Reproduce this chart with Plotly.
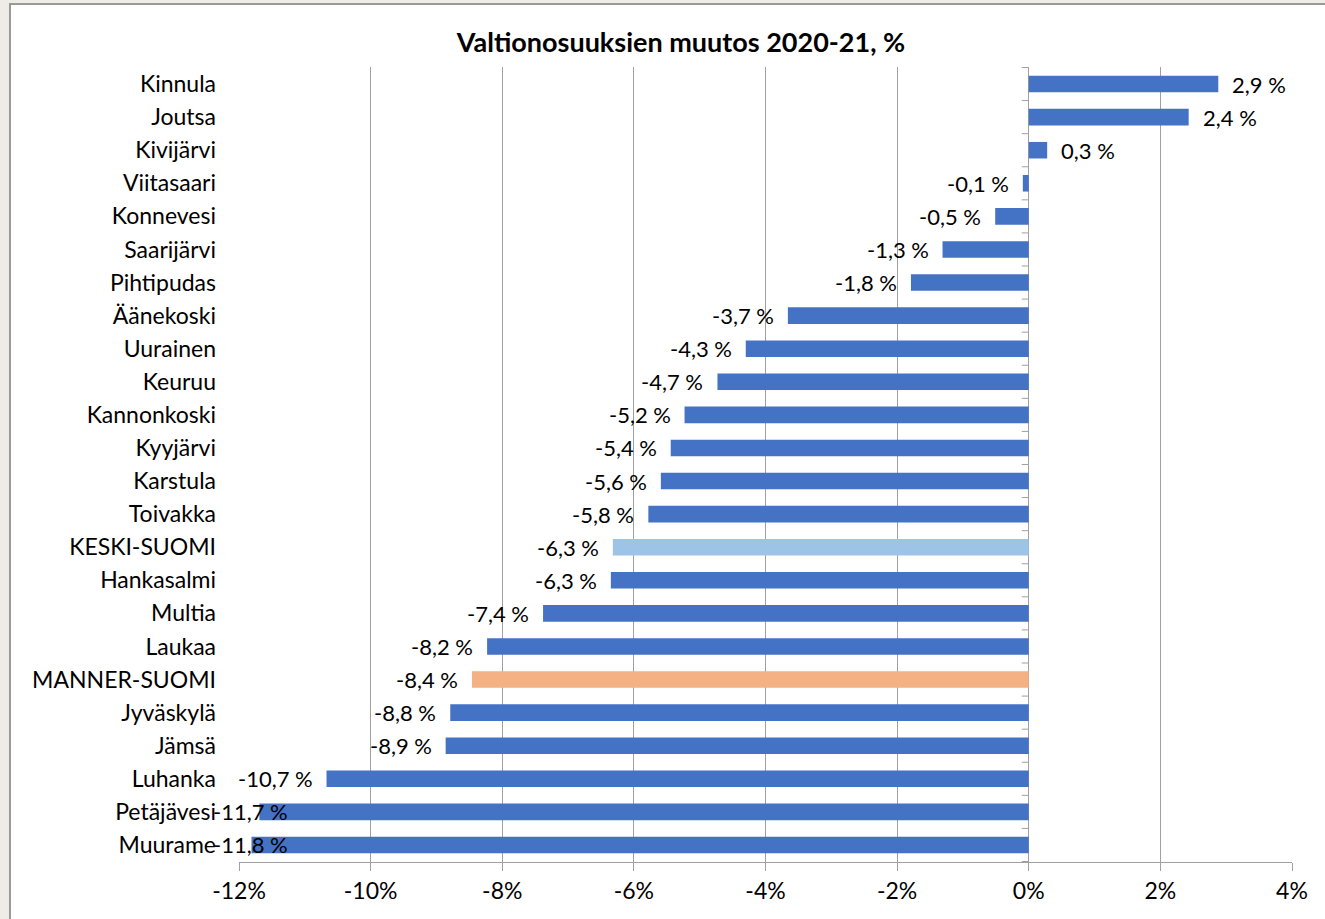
import plotly.graph_objects as go

categories = ["Kinnula", "Joutsa", "Kivijärvi", "Viitasaari", "Konnevesi", "Saarijärvi",
              "Pihtipudas", "Äänekoski", "Uurainen", "Keuruu", "Kannonkoski", "Kyyjärvi",
              "Karstula", "Toivakka", "KESKI-SUOMI", "Hankasalmi", "Multia", "Laukaa",
              "MANNER-SUOMI", "Jyväskylä", "Jämsä", "Luhanka", "Petäjävesi", "Muurame"]
values = [2.88, 2.43, 0.28, -0.09, -0.51, -1.31,
          -1.79, -3.66, -4.30, -4.73, -5.23, -5.44,
          -5.59, -5.78, -6.32, -6.35, -7.38, -8.23,
          -8.46, -8.79, -8.86, -10.67, -11.69, -11.81]
label_values = [2.9, 2.4, 0.3, -0.1, -0.5, -1.3,
                -1.8, -3.7, -4.3, -4.7, -5.2, -5.4,
                -5.6, -5.8, -6.3, -6.3, -7.4, -8.2,
                -8.4, -8.8, -8.9, -10.7, -11.7, -11.8]
x_ticks = [-12, -10, -8, -6, -4, -2, 0, 2, 4]
x_tick_labels = ["-12%", "-10%", "-8%", "-6%", "-4%", "-2%", "0%", "2%", "4%"]
title_text = "Valtionosuuksien muutos 2020-21, %"

BLUE = "#4472C4"
special = {"KESKI-SUOMI": "#9DC3E6", "MANNER-SUOMI": "#F4B183"}
colors = [special.get(c, BLUE) for c in categories]

FONT = "Lato, Carlito, Calibri, sans-serif"
FS = 23
GRID = "#a0a0a0"
W, H = 1325, 919
L, R, T, B = 239, 33, 67, 57
pw, ph = W - L - R, H - T - B

fig = go.Figure()
fig.add_trace(go.Bar(
    x=values, y=categories, orientation="h",
    marker=dict(color=colors, line=dict(width=0)),
    width=0.5, hoverinfo="x+y", showlegend=False,
))

# data labels
xmin = x_ticks[0]
lab_font = dict(family=FONT, size=22, color="#000")
for c, v, lv in zip(categories, values, label_values):
    txt = f"{lv:.1f} %".replace(".", ",")
    if v >= 0:
        fig.add_annotation(x=v, y=c, text=txt, xanchor="left", xshift=12,
                           showarrow=False, font=lab_font)
    elif v < -10.9:
        fig.add_annotation(x=xmin, y=c, text=txt, xanchor="left", xshift=-28,
                           showarrow=False, font=lab_font)
    else:
        fig.add_annotation(x=v, y=c, text=txt, xanchor="right", xshift=-12,
                           showarrow=False, font=lab_font)

shapes = []
# white chart area with border
shapes.append(dict(type="rect", xref="paper", yref="paper", layer="below",
                   x0=(10 - L) / pw, x1=(W + 10 - L) / pw,
                   y0=(T + ph - (H + 10)) / ph, y1=(T + ph - 4) / ph,
                   fillcolor="white", line=dict(color="#9a9a9a", width=2)))
# small tick marks on zero axis at category boundaries
for i in range(len(categories) + 1):
    shapes.append(dict(type="line", xref="x", yref="y", xsizemode="pixel", xanchor=0,
                       x0=-7, x1=0, y0=i - 0.5, y1=i - 0.5,
                       line=dict(color=GRID, width=1)))
fig.update_layout(shapes=shapes)

fig.update_layout(
    width=W, height=H,
    margin=dict(l=L, r=R, t=T, b=B, pad=0),
    paper_bgcolor="#efece7",
    plot_bgcolor="rgba(0,0,0,0)",
    title=dict(text=f"<b>{title_text}</b>", x=681 / W, xanchor="center",
               y=1 - 43 / H, yanchor="middle",
               font=dict(family=FONT, size=27, color="#000")),
    bargap=0.5,
    xaxis=dict(range=[x_ticks[0], x_ticks[-1]], tickvals=x_ticks, ticktext=x_tick_labels,
               showgrid=True, gridcolor=GRID, gridwidth=1,
               zeroline=True, zerolinecolor=GRID, zerolinewidth=1,
               showline=True, linecolor=GRID, linewidth=1,
               ticks="outside", ticklen=8, tickcolor=GRID,
               tickfont=dict(family=FONT, size=FS, color="#000")),
    yaxis=dict(autorange="reversed", showgrid=False, zeroline=False, showline=False,
               ticks="", ticklabelstandoff=22,
               tickfont=dict(family=FONT, size=FS, color="#000")),
)

fig.write_html("out.html", config={"displayModeBar": False},
               post_script="document.body.style.margin='0';document.body.style.overflow='hidden';")
